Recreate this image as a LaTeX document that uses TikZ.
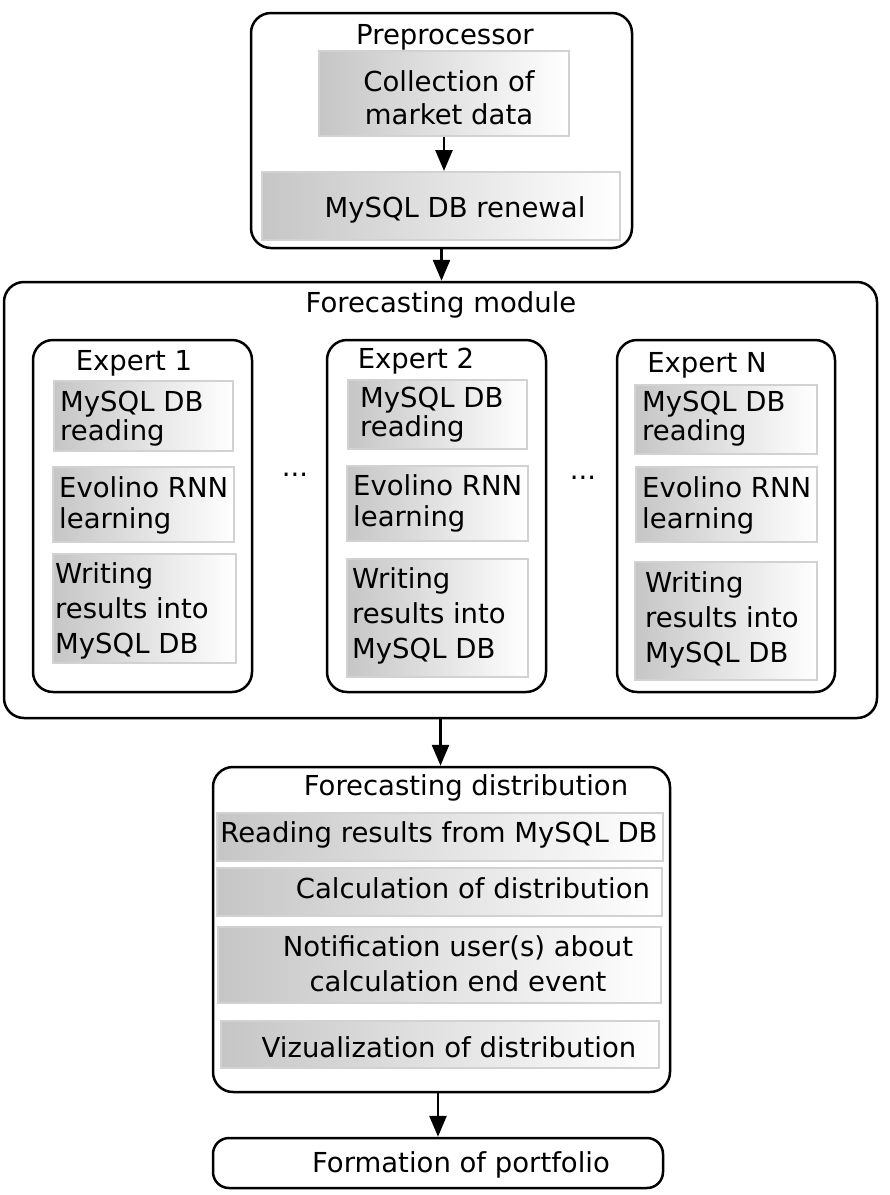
\documentclass[tikz,border=0pt]{standalone}
\usepackage{fontspec}
\setmainfont{DejaVu Sans}
\usetikzlibrary{arrows.meta}
\tikzset{
  outerbox/.style={draw=black, line width=2.5pt, rounded corners=20pt, inner sep=0pt, fill=white},
  gbox/.style={draw=gray!35, line width=2pt, left color=gray!45, right color=white, inner sep=0pt},
  txt/.style={inner sep=0pt, font=\fontsize{27.5}{33}\selectfont},
  btxt/.style={txt, anchor=base},
  ltxt/.style={txt, align=left, anchor=west},
  ctxt/.style={txt, align=center},
  skip/.style={font=\fontsize{27.5}{#1}\selectfont},
  arr/.style={draw=black, line width=2.8pt, -{Triangle[length=21pt,width=17pt]}},
}
\newcommand\mkbox[6]{\node[#2, minimum width={(#5)-(#3)}, minimum height={(#6)-(#4)}] (#1) at ({((#3)+(#5))/2},{((#4)+(#6))/2}) {};}
\begin{document}
\begin{tikzpicture}[x=1pt,y=-1pt]
\useasboundingbox (0,0) rectangle (890,1195);

% Preprocessor
\mkbox{prep}{outerbox}{251}{13}{632}{248}
\node[btxt] (prepT) at (445,44) {Preprocessor};
\mkbox{coll}{gbox}{319}{51}{569}{136}
\node[ctxt] (collT) at (449,98) {Collection of\\market data};
\mkbox{ren}{gbox}{262}{172}{620}{240}
\node[btxt] (renT) at (455,217) {MySQL DB renewal};

% Forecasting module
\mkbox{fm}{outerbox}{4}{282}{877}{718}
\node[btxt] (fmT) at (441,312) {Forecasting module};

% Expert 1
\mkbox{ea}{outerbox}{33}{340}{252}{692}
\node[btxt] (eaT) at (134,370) {Expert 1};
\mkbox{ea1}{gbox}{54}{381}{233}{451}
\node[ltxt, skip=29] (ea1T) at (60,419) {MySQL DB\\reading};
\mkbox{ea2}{gbox}{53}{467}{234}{542}
\node[ltxt, skip=31] (ea2T) at (59,505) {Evolino RNN\\learning};
\mkbox{ea3}{gbox}{53}{554}{236}{663}
\node[ltxt, skip=35] (ea3T) at (55,611) {Writing\\results into\\MySQL DB};

\node[btxt] (dots1) at (295,476) {...};

% Expert 2
\mkbox{eb}{outerbox}{327}{340}{546}{692}
\node[btxt] (ebT) at (416,368) {Expert 2};
\mkbox{eb1}{gbox}{348}{380}{527}{449}
\node[ltxt, skip=29] (eb1T) at (360,415) {MySQL DB\\reading};
\mkbox{eb2}{gbox}{347}{466}{528}{541}
\node[ltxt, skip=31] (eb2T) at (353,503) {Evolino RNN\\learning};
\mkbox{eb3}{gbox}{347}{559}{528}{677}
\node[ltxt, skip=35] (eb3T) at (352,616) {Writing\\results into\\MySQL DB};

\node[btxt] (dots2) at (583,479) {...};

% Expert N
\mkbox{en}{outerbox}{617}{340}{835}{692}
\node[btxt] (enT) at (707,372) {Expert N};
\mkbox{en1}{gbox}{635}{385}{817}{454}
\node[ltxt, skip=29] (en1T) at (642,419) {MySQL DB\\reading};
\mkbox{en2}{gbox}{636}{467}{817}{542}
\node[ltxt, skip=31] (en2T) at (642,505) {Evolino RNN\\learning};
\mkbox{en3}{gbox}{635}{562}{817}{680}
\node[ltxt, skip=35] (en3T) at (645,620) {Writing\\results into\\MySQL DB};

% Forecasting distribution
\mkbox{fd}{outerbox}{213}{767}{670}{1092}
\node[btxt] (fdT) at (466,795) {Forecasting distribution};
\mkbox{fd1}{gbox}{217}{813}{663}{861}
\node[btxt] (fd1T) at (439,842) {Reading results from MySQL DB};
\mkbox{fd2}{gbox}{217}{868}{662}{916}
\node[btxt] (fd2T) at (473,898) {Calculation of distribution};
\mkbox{fd3}{gbox}{218}{927}{661}{1003}
\node[ctxt, skip=35] (fd3T) at (458,964) {Notification user(s) about\\calculation end event};
\mkbox{fd4}{gbox}{221}{1021}{659}{1068}
\node[btxt] (fd4T) at (449,1057) {Vizualization of distribution};

% Formation of portfolio
\mkbox{form}{outerbox, rounded corners=16pt}{213}{1138}{663}{1188}
\node[btxt] (formT) at (461,1172) {Formation of portfolio};

% Connectors
\draw[arr] (coll.south) -- (coll.south |- ren.north);
\draw[arr] (prep.south) -- (prep.south |- fm.north);
\draw[arr] (fm.south) -- (fm.south |- fd.north);
\draw[arr] (form.north |- fd.south) -- (form.north);
\end{tikzpicture}
\end{document}
